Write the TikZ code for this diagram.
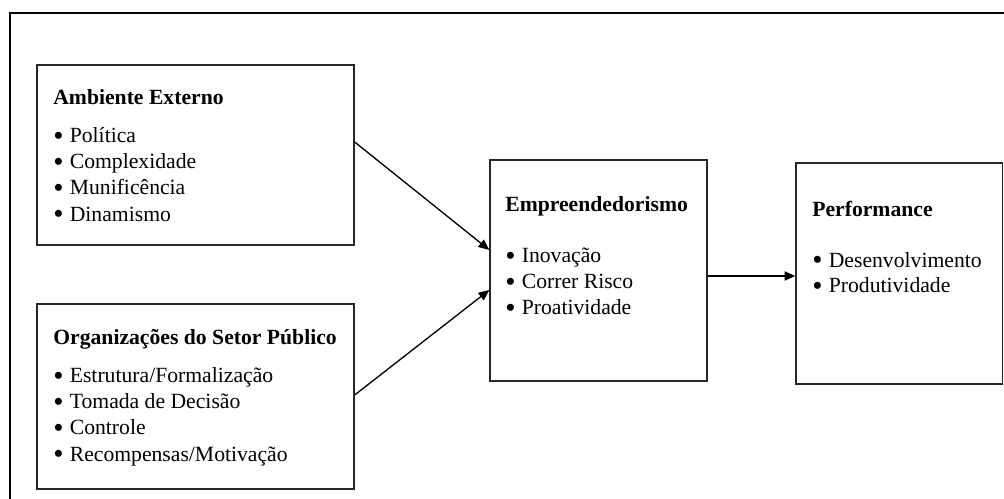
\documentclass[tikz,border=0pt]{standalone}
\usepackage{fontspec}
\usepackage{graphicx}
\setmainfont{Liberation Serif}
\usetikzlibrary{arrows.meta,fit}
\tikzset{
  px/.style={x=0.6pt,y=-0.6pt},
  box/.style={draw=black!85,line width=0.8pt,inner sep=0pt},
  txt/.style={anchor=base west,inner sep=0pt,font=\fontsize{13pt}{15pt}\selectfont},
  arr/.style={draw=black,line width=0.8pt,-{Triangle[length=6.5pt,width=5.5pt]}},
  frame/.style={draw=black,line width=1.2pt}
}
\newcommand\bl{\makebox[9.9pt][l]{\smash{\raisebox{-1.5pt}{\scalebox{1.35}{•}}}}}
\begin{document}
\begin{tikzpicture}[px]
\useasboundingbox (0,0) rectangle (1004,499);
% outer frame (open to the right and bottom)
\coordinate (fb) at (10,510);
\coordinate (ftl) at (10,12.7);
\coordinate (ftr) at (1015,12.7);
\draw[frame] (fb) -- (ftl) -- (ftr);
% box corners
\coordinate (amb1) at (37,65);   \coordinate (amb2) at (354,245);
\coordinate (org1) at (37,304);  \coordinate (org2) at (354,489);
\coordinate (emp1) at (490,160); \coordinate (emp2) at (707,381);
\coordinate (perf1) at (796,163); \coordinate (perf2) at (1002.5,384);
% boxes
\node[box,fit=(amb1)(amb2)] (amb) {};
\node[box,fit=(org1)(org2)] (org) {};
\node[box,fit=(emp1)(emp2)] (emp) {};
\node[box,fit=(perf1)(perf2)] (perf) {};
% Ambiente Externo
\node[txt] (a0) at (53,105) {\bfseries Ambiente Externo};
\node[txt] (a1) at (53,142.7) {\bl Política};
\node[txt] (a2) at (53,169) {\bl Complexidade};
\node[txt] (a3) at (53,195) {\bl Munificência};
\node[txt] (a4) at (53,221.5) {\bl Dinamismo};
% Organizacoes
\node[txt] (o0) at (53,345) {\bfseries Organizações do Setor Público};
\node[txt] (o1) at (53,382.7) {\bl Estrutura/Formalização};
\node[txt] (o2) at (53,409) {\bl Tomada de Decisão};
\node[txt] (o3) at (53,435) {\bl Controle};
\node[txt] (o4) at (53,461.5) {\bl Recompensas/Motivação};
% Empreendedorismo
\node[txt] (e0) at (505,211.7) {\bfseries Empreendedorismo};
\node[txt] (e1) at (505,262.7) {\bl Inovação};
\node[txt] (e2) at (505,289) {\bl Correr Risco};
\node[txt] (e3) at (505,315) {\bl Proatividade};
% Performance
\node[txt] (p0) at (812,216.7) {\bfseries Performance};
\node[txt] (p1) at (812,267.3) {\bl Desenvolvimento};
\node[txt] (p2) at (812,293) {\bl Produtividade};
% connector ends
\coordinate (s1) at (amb.east |- 0,142);
\coordinate (t1) at (emp.west |- 0,250);
\coordinate (s2) at (org.east |- 0,395);
\coordinate (t2) at (emp.west |- 0,290);
\coordinate (s3) at (emp.east |- 0,276);
\coordinate (t3) at (perf.west |- 0,276);
\draw[arr] (s1) -- (t1);
\draw[arr] (s2) -- (t2);
\draw[arr] (s3) -- (t3);
\end{tikzpicture}
\end{document}
